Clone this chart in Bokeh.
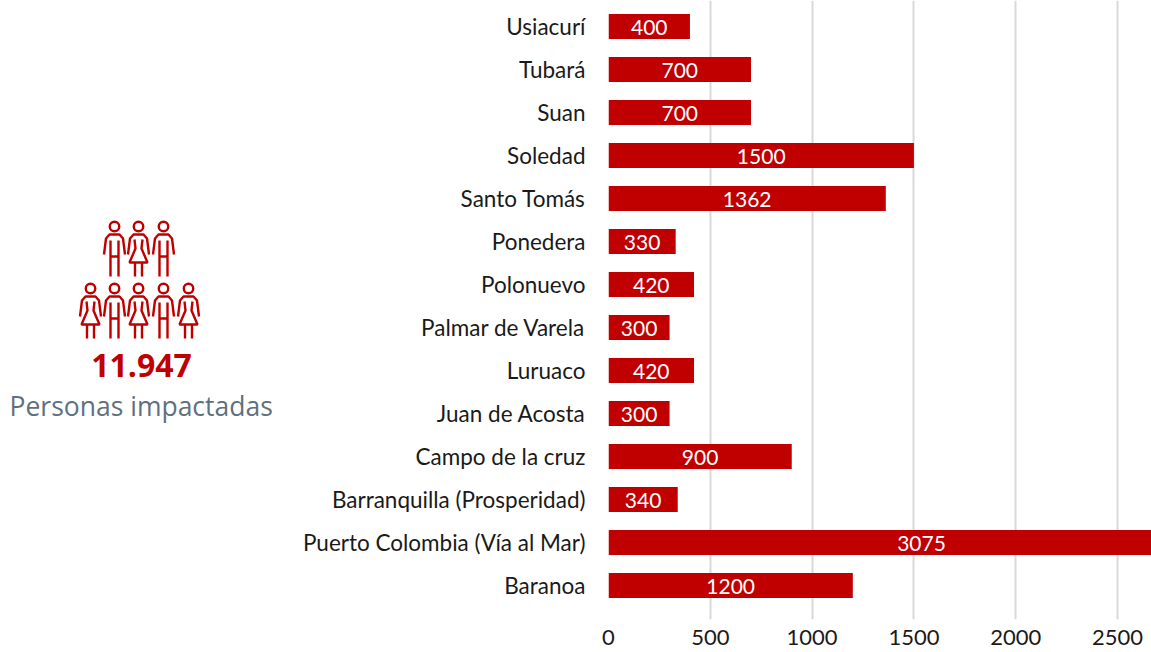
from bokeh.plotting import figure
from bokeh.layouts import row
from bokeh.models import Range1d, FixedTicker, ColumnDataSource
from bokeh.core.properties import value
from bokeh.embed import file_html
from bokeh.resources import INLINE

categories = ["Baranoa", "Puerto Colombia (Vía al Mar)", "Barranquilla (Prosperidad)", "Campo de la cruz",
              "Juan de Acosta", "Luruaco", "Palmar de Varela", "Polonuevo", "Ponedera", "Santo Tomás",
              "Soledad", "Suan", "Tubará", "Usiacurí"]
personas = [1200, 3075, 340, 900, 300, 420, 300, 420, 330, 1362, 1500, 700, 700, 400]
x_ticks = [0, 500, 1000, 1500, 2000, 2500]
total_text = "11.947"
caption_text = "Personas impactadas"

RED = "#c00000"
FONT = "Lato"
SANS = "Open Sans"
W = 276

# ---- left panel (page-pixel coordinates) ----
left = figure(width=W, height=652, x_range=Range1d(0, W), y_range=Range1d(619, 0),
              toolbar_location=None, output_backend="svg",
              min_border_left=0, min_border_right=0, min_border_top=0, min_border_bottom=33)
left.axis.visible = False
left.grid.visible = False
left.outline_line_color = None

ARMS = [[(-10.5, 28), (-8.5, 12), (-5, 8), (5, 8), (8.5, 12), (10.5, 28)]]
MAN = ARMS + [[(-4, 14), (-4, 50)], [(4, 14), (4, 50)], [(-4, 30), (4, 30)]]
WOMAN = ARMS + [[(-4, 13), (-3, 22), (-9, 36), (9, 36), (3, 22), (4, 13)],
                [(-3.5, 36), (-3.5, 50)], [(3.5, 36), (3.5, 50)]]
people = [(114, 226, MAN), (138, 226, WOMAN), (163, 226, MAN),
          (90, 288, WOMAN), (114, 288, MAN), (138, 288, WOMAN), (163, 288, MAN), (188, 288, WOMAN)]
xs, ys, hx, hy = [], [], [], []
for cx, cy, shape in people:
    hx.append(cx); hy.append(cy)
    for seg in shape:
        xs.append([cx + a for a, _ in seg])
        ys.append([cy + b for _, b in seg])
left.multi_line(xs, ys, line_color=RED, line_width=2.4)
left.scatter(hx, hy, size=9.5, fill_color=None, line_color=RED, line_width=2.4)
left.text([141], [365], text=[total_text], text_color=RED, text_font=value(SANS), text_font_style="bold",
          text_font_size="32px", text_align="center", text_baseline="middle")
left.text([9], [405], text=[caption_text], text_color="#5f7080", text_font=value(SANS),
          text_font_size="26.5px", text_align="left", text_baseline="middle")

# ---- chart ----
y = list(range(len(categories)))
src = ColumnDataSource(dict(y=y, v=personas, mid=[v / 2 for v in personas], lab=[str(v) for v in personas]))
p = figure(width=1151 - W, height=652, x_range=Range1d(0, 2667), y_range=Range1d(-0.79, 13.605),
           toolbar_location=None, output_backend="svg",
           min_border_left=608 - W, min_border_right=0, min_border_top=0, min_border_bottom=33)
p.outline_line_color = None
p.ygrid.visible = False
p.xgrid.grid_line_color = "#d9d9d9"
p.xgrid.grid_line_width = 2
p.hbar(y="y", right="v", left=0, height=0.58, source=src, fill_color=RED, line_color=None)
p.text(x="mid", y="y", text="lab", source=src, text_color="white", text_font=value(FONT),
       text_font_size="21px", text_align="center", text_baseline="middle", y_offset=1)

p.xaxis.ticker = FixedTicker(ticks=x_ticks)
p.yaxis.ticker = FixedTicker(ticks=y)
p.yaxis.major_label_overrides = {i: c for i, c in enumerate(categories)}
for ax in (p.xaxis[0], p.yaxis[0]):
    ax.axis_line_color = None
    ax.major_tick_line_color = None
    ax.minor_tick_line_color = None
    ax.major_label_text_font = FONT
    ax.major_label_text_color = "#1a1a1a"
p.xaxis[0].major_label_text_font_size = "22px"
p.yaxis[0].major_label_text_font_size = "22.5px"
p.xaxis.major_label_standoff = 4
p.yaxis.major_label_standoff = 17

page = row(left, p, spacing=0)
open("out.html", "w").write(file_html(page, INLINE))
